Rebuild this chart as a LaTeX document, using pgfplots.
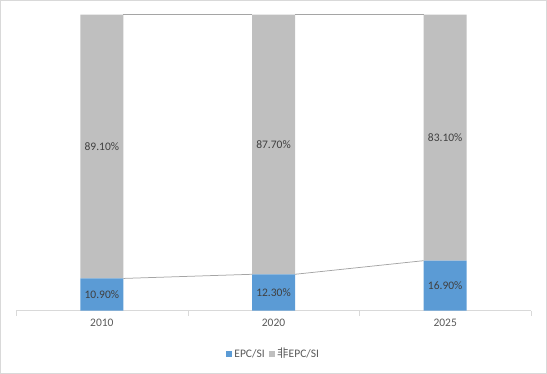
\documentclass[border=0pt]{standalone}
\usepackage{pgfplots}
\pgfplotsset{compat=1.18}
\usepackage{fontspec}
\setmainfont{Carlito}
\newfontfamily\cjk{Noto Sans CJK SC}
\definecolor{epc}{HTML}{5B9BD5}
\definecolor{nonepc}{HTML}{BFBFBF}
\definecolor{axgray}{HTML}{D9D9D9}
\definecolor{txt}{HTML}{404040}
\definecolor{ticktxt}{HTML}{595959}
\definecolor{sline}{HTML}{A5A5A5}
\begin{document}
\begin{tikzpicture}
\draw[draw=axgray, line width=1pt] (0.5pt,0.5pt) rectangle (546.5pt,373.5pt);
\begin{axis}[at={(16pt,63.3pt)}, anchor=south west, scale only axis, width=515pt, height=296pt,
 xmin=-0.5, xmax=2.5, ymin=0, ymax=100,
 ybar stacked, bar width=43pt,
 hide y axis, axis x line*=bottom, x axis line style={draw=axgray,-},
 xtick={0,1,2}, xticklabels={2010,2020,2025}, major tick length=0pt,
 extra x ticks={-0.5,0.5,1.5,2.5}, extra x tick labels={},
 extra x tick style={major tick length=5pt, tick align=outside},
 x tick style={draw=axgray},
 /pgf/number format/assume math mode=true,
 ticklabel style={font=\fontsize{11.5}{13}\selectfont, text=ticktxt},
 xticklabel style={yshift=-4.5pt},
 legend style={at={(0.5,-0.146)}, anchor=center, draw=none, legend columns=2,
   font=\fontsize{11.5}{13}\selectfont, text=ticktxt,
   /tikz/every even column/.append style={column sep=2pt}},
 legend image code/.code={\draw[#1,draw=none] (0pt,-3.2pt) rectangle (6.5pt,3.3pt);},
]
\addplot[fill=epc, draw=none] coordinates {(0,10.9) (1,12.3) (2,16.9)};
\addplot[fill=nonepc, draw=none] coordinates {(0,89.1) (1,87.7) (2,83.1)};
\legend{EPC/SI, {\cjk 非}EPC/SI}
\end{axis}
\begin{axis}[at={(16pt,63.3pt)}, anchor=south west, scale only axis, width=515pt, height=296pt,
 xmin=-0.5, xmax=2.5, ymin=0, ymax=100, hide axis, clip=false]
\addplot[sline, line width=0.75pt] coordinates {(0.125,10.9) (0.875,12.3)};
\addplot[sline, line width=0.75pt] coordinates {(1.125,12.3) (1.875,16.9)};
\addplot[sline, line width=0.75pt] coordinates {(0.125,100) (0.875,100)};
\addplot[sline, line width=0.75pt] coordinates {(1.125,100) (1.875,100)};
\addplot[draw=none, nodes near coords, point meta=explicit symbolic,
  every node near coord/.append style={anchor=center, font=\fontsize{11.5}{13}\selectfont, text=txt}]
  coordinates {(0,5.45) [10.90\%] (1,6.15) [12.30\%] (2,8.45) [16.90\%]
               (0,55.45) [89.10\%] (1,56.15) [87.70\%] (2,58.45) [83.10\%]};
\end{axis}
\end{tikzpicture}
\end{document}
